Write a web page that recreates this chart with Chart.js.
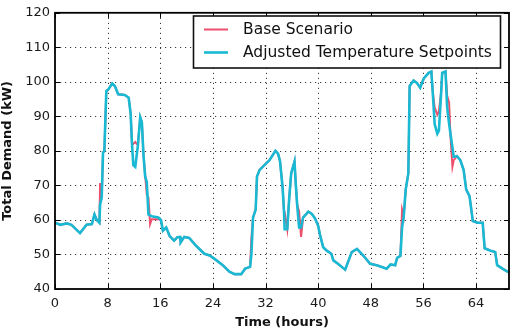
<!DOCTYPE html>
<html>
<head>
<meta charset="utf-8">
<script src="https://cdn.jsdelivr.net/npm/chart.js@4.4.1/dist/chart.umd.min.js"></script>
<style>
  html, body { margin: 0; padding: 0; background: #fff; }
  #wrap { width: 512px; height: 331px; position: relative; }
</style>
</head>
<body>
<div id="wrap"><canvas id="c" width="512" height="331"></canvas></div>
<script>
// ---- data ----
const hours = [
  0, 0.8, 1.8, 2.5, 3.8, 4.8, 5.6, 6.0, 6.35, 6.75, 6.85, 7.1, 7.3, 7.5, 7.8, 8.1, 8.7, 9.1, 9.6, 10.6,
  11.2, 11.5, 11.7, 11.9, 12.2, 12.6, 12.95, 13.2, 13.45, 13.7, 13.95, 14.2, 14.45, 14.7, 15.7, 16.1, 16.4, 16.9, 17.1, 17.4,
  18.1, 18.6, 19.0, 19.1, 19.65, 20.4, 21.4, 22.7, 23.5, 24.2, 25.5, 26.5, 27.3, 28.3, 28.9, 29.65, 29.85, 30.1, 30.5, 30.7,
  31.1, 32.1, 32.6, 33.5, 33.9, 34.2, 34.6, 34.8, 34.9, 35.3, 35.6, 35.9, 36.4, 36.6, 36.8, 37.1, 37.4, 37.7, 38.5, 39.0,
  39.5, 40.0, 40.25, 40.76, 41.3, 42.0, 42.3, 43.0, 44.1, 45.1, 45.9, 46.85, 47.9, 48.9, 50.4, 51.0, 51.7, 52.0, 52.5, 52.75,
  53.0, 53.3, 53.7, 53.9, 54.5, 55.0, 55.5, 56.05, 56.8, 57.2, 57.4, 57.7, 58.1, 58.35, 58.7, 58.85, 59.35, 59.6, 59.9, 60.1,
  60.4, 60.6, 61.1, 61.6, 62.1, 62.5, 63.0, 63.5, 64.2, 65.0, 65.3, 66.2, 66.9, 67.2, 68.0, 68.7, 69.0
];
const adjustedDemand = [
  59.2, 58.6, 59.0, 58.6, 56.2, 58.6, 58.8, 61.6, 60.0, 59.2, 64.5, 66.4, 79.5, 80.0, 97.3, 97.8, 99.5, 98.8, 96.4, 96.2,
  95.4, 90.7, 82.1, 75.9, 75.4, 81.6, 89.7, 88.3, 78.8, 72.6, 71.0, 61.6, 61.3, 61.1, 60.7, 60.0, 56.9, 57.8, 56.9, 55.4,
  54.0, 55.0, 55.1, 53.5, 55.1, 54.8, 52.6, 50.2, 49.7, 48.8, 46.9, 45.0, 44.3, 44.3, 45.9, 46.4, 50.2, 60.7, 63.0, 72.6,
  74.5, 76.4, 77.3, 80.0, 79.2, 77.0, 69.2, 62.6, 57.3, 57.3, 66.4, 73.5, 76.9, 70.2, 64.5, 57.8, 57.8, 60.7, 62.4, 61.8,
  60.5, 58.3, 55.9, 52.1, 51.1, 50.2, 48.3, 47.3, 45.6, 50.7, 51.6, 49.7, 47.3, 46.9, 45.9, 47.1, 46.9, 49.0, 49.6, 57.8,
  61.1, 68.8, 73.5, 98.8, 100.4, 99.7, 98.3, 101.0, 102.6, 103.0, 97.3, 87.8, 85.0, 85.9, 97.3, 102.6, 103.0, 92.6, 87.8, 85.0,
  81.1, 78.3, 78.5, 77.3, 74.5, 68.8, 66.9, 59.7, 59.2, 59.2, 51.8, 51.1, 50.7, 46.9, 45.9, 45.1, 44.8
];
const baseDemand = [
  59.2, 58.6, 59.0, 58.6, 56.2, 58.6, 58.8, 61.6, 60.0, 59.2, 70.7, 66.4, 79.5, 80.0, 97.3, 97.8, 99.5, 98.8, 96.4, 96.2,
  95.4, 90.7, 82.1, 82.0, 82.6, 81.6, 89.7, 88.3, 78.8, 73.0, 67.3, 66.5, 58.8, 60.2, 60.2, 60.0, 56.9, 57.8, 56.9, 55.4,
  54.0, 55.0, 55.1, 53.5, 55.1, 54.8, 52.6, 50.2, 49.7, 48.8, 46.9, 45.0, 44.3, 44.3, 45.9, 46.4, 54.8, 60.7, 63.0, 72.6,
  74.5, 76.4, 77.3, 80.0, 79.2, 77.0, 69.2, 62.6, 62.3, 57.3, 66.4, 73.5, 76.9, 70.2, 64.5, 62.5, 55.1, 60.7, 62.4, 61.8,
  60.5, 58.3, 55.9, 52.1, 51.1, 50.2, 48.3, 47.3, 45.6, 50.7, 51.6, 49.7, 47.3, 46.9, 45.9, 47.1, 46.9, 49.0, 49.6, 63.0,
  61.1, 68.8, 73.5, 98.8, 100.4, 99.7, 98.3, 101.0, 102.6, 103.0, 97.3, 92.6, 90.5, 91.5, 97.3, 102.6, 103.0, 96.0, 94.0, 84.5,
  75.4, 77.3, 78.5, 77.3, 74.5, 68.8, 66.9, 59.7, 59.2, 59.2, 51.8, 51.1, 50.7, 46.9, 45.9, 45.1, 44.8
];
const xTicks = [0, 8, 16, 24, 32, 40, 48, 56, 64];
const yTicks = [40, 50, 60, 70, 80, 90, 100, 110, 120];
const seriesNames = ['Base Scenario', 'Adjusted Temperature Setpoints'];
const seriesColors = ['#ee4f6c', '#19b9d3'];

const FONT = "'DejaVu Sans', 'Liberation Sans', sans-serif";

const toPoints = (xs, ys) => xs.map((x, i) => ({ x: x, y: ys[i] }));

const decor = {
  id: 'decor',
  beforeDatasetsDraw(chart) {
    const { ctx, chartArea: a, scales: { x, y } } = chart;
    ctx.save();
    ctx.strokeStyle = '#3a3a3a';
    ctx.lineWidth = 1;
    ctx.setLineDash([1.2, 3.8]);
    xTicks.forEach(t => {
      const px = Math.round(x.getPixelForValue(t)) + 0.5;
      if (px <= a.left + 1 || px >= a.right - 1) return;
      ctx.beginPath(); ctx.moveTo(px, a.top); ctx.lineTo(px, a.bottom); ctx.stroke();
    });
    yTicks.forEach(t => {
      const py = Math.round(y.getPixelForValue(t)) + 0.5;
      if (py <= a.top + 1 || py >= a.bottom - 1) return;
      ctx.beginPath(); ctx.moveTo(a.left, py); ctx.lineTo(a.right, py); ctx.stroke();
    });
    ctx.restore();
  },
  afterDatasetsDraw(chart) {
    const { ctx, chartArea: a, scales: { x, y } } = chart;
    ctx.save();
    // inward ticks on all sides
    ctx.strokeStyle = '#000';
    ctx.lineWidth = 1;
    const L = 5;
    xTicks.forEach(t => {
      const px = Math.round(x.getPixelForValue(t)) + 0.5;
      ctx.beginPath(); ctx.moveTo(px, a.bottom); ctx.lineTo(px, a.bottom - L); ctx.stroke();
      ctx.beginPath(); ctx.moveTo(px, a.top); ctx.lineTo(px, a.top + L); ctx.stroke();
    });
    yTicks.forEach(t => {
      const py = Math.round(y.getPixelForValue(t)) + 0.5;
      ctx.beginPath(); ctx.moveTo(a.left, py); ctx.lineTo(a.left + L, py); ctx.stroke();
      ctx.beginPath(); ctx.moveTo(a.right, py); ctx.lineTo(a.right - L, py); ctx.stroke();
    });
    // frame
    ctx.lineWidth = 1.8;
    ctx.strokeRect(a.left, a.top, a.right - a.left, a.bottom - a.top);

    // legend
    const lx = 193.5, ly = 16, lw = 307, lh = 52;
    ctx.fillStyle = '#fff';
    ctx.fillRect(lx, ly, lw, lh);
    ctx.lineWidth = 1.6;
    ctx.strokeStyle = '#111';
    ctx.strokeRect(lx, ly, lw, lh);
    const rows = [29.5, 52.5];
    const widths = [2, 2.6];
    rows.forEach((ry, i) => {
      ctx.strokeStyle = seriesColors[i];
      ctx.lineWidth = widths[i];
      ctx.beginPath(); ctx.moveTo(204, ry); ctx.lineTo(228, ry); ctx.stroke();
      ctx.fillStyle = '#111';
      ctx.font = "15.5px " + FONT;
      ctx.textBaseline = 'middle';
      ctx.textAlign = 'left';
      ctx.fillText(seriesNames[i], 243, ry + 0.5);
    });
    ctx.restore();
  }
};

new Chart(document.getElementById('c'), {
  type: 'line',
  data: {
    datasets: [
      {
        label: seriesNames[0],
        data: toPoints(hours, baseDemand),
        borderColor: seriesColors[0],
        borderWidth: 2,
        pointRadius: 0,
        tension: 0,
        fill: false,
        order: 2
      },
      {
        label: seriesNames[1],
        data: toPoints(hours, adjustedDemand),
        borderColor: seriesColors[1],
        borderWidth: 2.6,
        pointRadius: 0,
        tension: 0,
        fill: false,
        order: 1
      }
    ]
  },
  options: {
    responsive: false,
    animation: false,
    devicePixelRatio: 1,
    layout: { padding: { top: 8, right: 3, left: 0, bottom: 0 } },
    plugins: { legend: { display: false }, tooltip: { enabled: false } },
    scales: {
      x: {
        type: 'linear',
        min: 0,
        max: 69,
        afterBuildTicks: s => { s.ticks = xTicks.map(v => ({ value: v })); },
        afterFit: s => { s.height = 42; },
        grid: { display: false, drawTicks: false },
        border: { display: false },
        ticks: { color: '#1a1a1a', font: { family: FONT, size: 13 }, padding: 7, maxRotation: 0, autoSkip: false },
        title: { display: true, text: 'Time (hours)', color: '#111', font: { family: FONT, size: 13, weight: 'bold' }, padding: { top: 0, bottom: 1 } }
      },
      y: {
        min: 40,
        max: 120,
        afterBuildTicks: s => { s.ticks = yTicks.map(v => ({ value: v })); },
        afterFit: s => { s.width = 55; },
        grid: { display: false, drawTicks: false },
        border: { display: false },
        ticks: { color: '#1a1a1a', font: { family: FONT, size: 13 }, padding: 5, autoSkip: false },
        title: { display: true, text: 'Total Demand (kW)', color: '#111', font: { family: FONT, size: 13, weight: 'bold' }, padding: { top: 0, bottom: 1 } }
      }
    }
  },
  plugins: [decor]
});
</script>
</body>
</html>
